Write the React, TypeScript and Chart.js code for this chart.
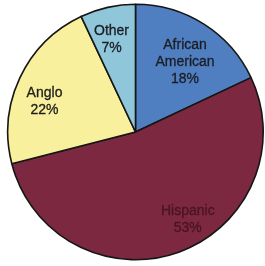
import React, { useEffect, useRef } from "react";
import { Chart, registerables } from "chart.js";

Chart.register(...registerables);

const categories = ["African American", "Hispanic", "Anglo", "Other"];
const shares = [18, 53, 22, 7];
const labelLines = [["African", "American", "18%"], ["Hispanic", "53%"], ["Anglo", "22%"], ["Other", "7%"]];
const sliceColors = ["#4f7fc0", "#7b2840", "#f8f09c", "#8fc6d9"];
const textColors = ["#1c1c24", "#4a1424", "#1c1c1c", "#1c1c24"];
// label placement: radial fraction and angle offset (deg) from slice mid
const labelRadius = [0.67, 0.8, 0.75, 0.745];
const labelAngleShift = [3, -11, -7, -2];

const labelPlugin = {
  id: "sliceLabels",
  afterDatasetsDraw(chart: any) {
    const ctx = chart.ctx;
    const meta = chart.getDatasetMeta(0);
    ctx.save();
    ctx.font = "14px 'Liberation Sans', Arial, sans-serif";
    ctx.textAlign = "center";
    ctx.textBaseline = "middle";
    meta.data.forEach((arc: any, i: number) => {
      const p = arc.getProps(["x", "y", "startAngle", "endAngle", "outerRadius"], true);
      const mid = (p.startAngle + p.endAngle) / 2 + (labelAngleShift[i] * Math.PI) / 180;
      const r = p.outerRadius * labelRadius[i];
      const cx = p.x + Math.cos(mid) * r;
      const cy = p.y + Math.sin(mid) * r;
      const lines = labelLines[i];
      const lh = 17;
      ctx.fillStyle = textColors[i];
      ctx.strokeStyle = textColors[i];
      ctx.lineWidth = 0.3;
      lines.forEach((ln, j) => {
        const y = cy + (j - (lines.length - 1) / 2) * lh;
        ctx.fillText(ln, cx, y);
        ctx.strokeText(ln, cx, y);
      });
    });
    ctx.restore();
  },
};

export default function App() {
  const ref = useRef<HTMLCanvasElement>(null);
  useEffect(() => {
    document.body.style.margin = "0";
    const chart = new Chart(ref.current!, {
      type: "pie",
      data: {
        labels: categories,
        datasets: [
          {
            data: shares,
            backgroundColor: sliceColors,
            borderColor: "#161616",
            borderWidth: 1.6,
          },
        ],
      },
      options: {
        animation: false,
        responsive: false,
        layout: { padding: { left: 7, right: 1, top: 3, bottom: 5 } },
        plugins: { legend: { display: false }, tooltip: { enabled: false } },
      },
      plugins: [labelPlugin],
    });
    return () => chart.destroy();
  }, []);
  return (
    <div style={{ width: 265, height: 266, background: "#fff" }}>
      <canvas ref={ref} width={265} height={266} style={{ display: "block" }} />
    </div>
  );
}
